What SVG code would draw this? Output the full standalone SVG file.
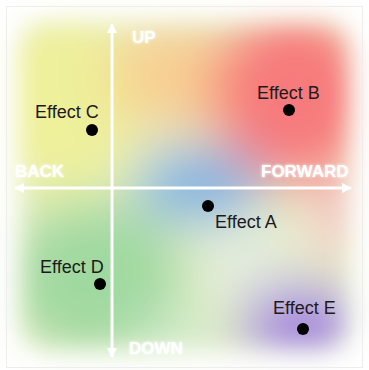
<svg xmlns="http://www.w3.org/2000/svg" width="369" height="370" viewBox="0 0 369 370">
  <defs>
    <filter id="soft" x="-30%" y="-30%" width="160%" height="160%">
      <feGaussianBlur stdDeviation="26"/>
    </filter>
    <filter id="edgeBlur" x="-20%" y="-20%" width="140%" height="140%">
      <feGaussianBlur stdDeviation="13"/>
    </filter>
    <filter id="glow" x="-20%" y="-40%" width="140%" height="180%">
      <feGaussianBlur in="SourceGraphic" stdDeviation="1.6" result="b"/>
      <feMerge>
        <feMergeNode in="b"/>
        <feMergeNode in="SourceGraphic"/>
      </feMerge>
    </filter>
    <mask id="fadeEdges" maskUnits="userSpaceOnUse" x="0" y="0" width="369" height="370">
      <rect x="18" y="20" width="334" height="332" rx="28" fill="#fff" filter="url(#edgeBlur)"/>
    </mask>
    <marker id="head" viewBox="0 0 10 10" refX="9" refY="5" markerWidth="3.4" markerHeight="3.4" orient="auto" markerUnits="strokeWidth">
      <path d="M0,0 L10,5 L0,10 Z" fill="#fff"/>
    </marker>
    <style>
      .axis { stroke: #fff; stroke-width: 3; fill: none; }
      .dir { font-family: "Liberation Sans", Arial, sans-serif; font-weight: bold; font-size: 17px; fill: #fff; }
      .lbl { font-family: "Liberation Sans", Arial, sans-serif; font-size: 18px; fill: #1e1a1c; }
      .dot { fill: #000; }
    </style>
  </defs>

  <!-- canvas -->
  <rect x="0" y="0" width="369" height="370" fill="#fff"/>

  <!-- colour field -->
  <g mask="url(#fadeEdges)">
    <g filter="url(#soft)">
      <rect x="-40" y="-40" width="449" height="450" fill="#e6efc8"/>
      <ellipse cx="60" cy="100" rx="85" ry="95" fill="#eef09a"/>
      <ellipse cx="175" cy="75" rx="65" ry="55" fill="#f7cf92"/>
      <ellipse cx="295" cy="95" rx="85" ry="90" fill="#f77a7c"/>
      <ellipse cx="338" cy="215" rx="30" ry="40" fill="#f6c4c8"/>
      <ellipse cx="200" cy="185" rx="65" ry="38" fill="#80b2e2"/>
      <ellipse cx="95" cy="280" rx="90" ry="80" fill="#a0d9a0"/>
      <ellipse cx="245" cy="262" rx="45" ry="30" fill="#e4ede2"/>
      <ellipse cx="302" cy="328" rx="62" ry="44" fill="#a686de"/>
      <ellipse cx="175" cy="338" rx="40" ry="25" fill="#cdeacd"/>
    </g>
  </g>

  <!-- thin frame -->
  <rect x="6.5" y="6.5" width="356" height="361" fill="none" stroke="#ededed" stroke-width="1"/>

  <!-- axes -->
  <g id="connectors">
    <line class="axis" x1="112" y1="188" x2="112" y2="24" marker-end="url(#head)"/>
    <line class="axis" x1="112" y1="188" x2="112" y2="357" marker-end="url(#head)"/>
    <line class="axis" x1="112" y1="188" x2="351" y2="188" marker-end="url(#head)"/>
    <line class="axis" x1="112" y1="188" x2="15" y2="188" marker-end="url(#head)"/>
  </g>

  <!-- direction labels -->
  <g id="directions" filter="url(#glow)">
    <text class="dir" x="132" y="43">UP</text>
    <text class="dir" x="15" y="177">BACK</text>
    <text class="dir" x="261" y="177">FORWARD</text>
    <text class="dir" x="129" y="354">DOWN</text>
  </g>

  <g id="effect-a">
    <circle class="dot" cx="208" cy="206" r="6"/>
    <text class="lbl" x="215" y="228">Effect A</text>
  </g>
  <g id="effect-b">
    <circle class="dot" cx="289" cy="110" r="6"/>
    <text class="lbl" x="257" y="99">Effect B</text>
  </g>
  <g id="effect-c">
    <circle class="dot" cx="92" cy="130" r="6"/>
    <text class="lbl" x="35" y="118">Effect C</text>
  </g>
  <g id="effect-d">
    <circle class="dot" cx="100" cy="284" r="6"/>
    <text class="lbl" x="40" y="273">Effect D</text>
  </g>
  <g id="effect-e">
    <circle class="dot" cx="303" cy="329" r="6"/>
    <text class="lbl" x="273" y="314">Effect E</text>
  </g>
</svg>
